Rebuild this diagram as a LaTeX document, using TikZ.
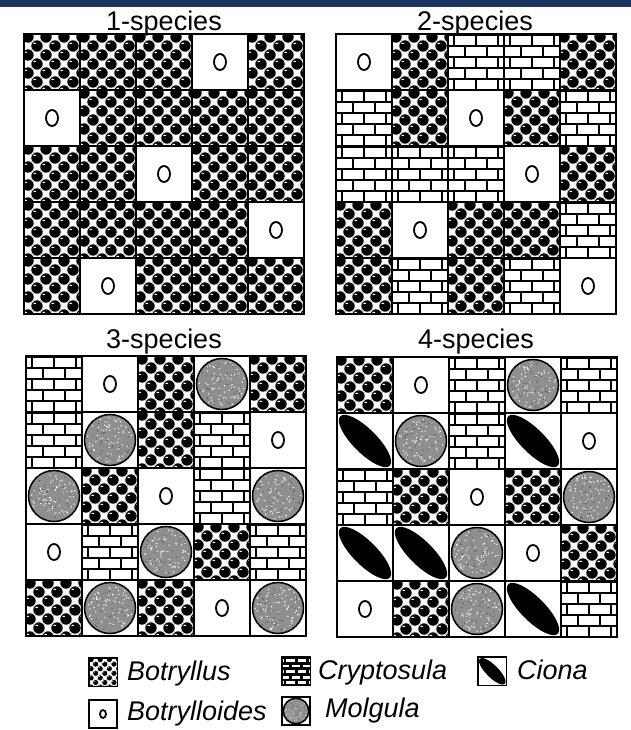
\documentclass[tikz,border=0pt]{standalone}
\usepackage{fontspec}
\setmainfont{Liberation Sans}
\definecolor{navy}{RGB}{26,54,94}
\definecolor{molg}{gray}{0.56}
\tikzset{
  cellborder/.style={draw=black, line width=1.6pt},
  gridborder/.style={draw=black, line width=2.2pt},
  brickline/.style={draw=black, line width=2.8pt},
  titletext/.style={font=\fontsize{27}{30}\selectfont, anchor=base, inner sep=0pt},
  legtext/.style={font=\itshape\fontsize{27}{30}\selectfont, anchor=base west, inner sep=0pt},
}
% Botryllus: black bubbles with white gaps
\newcommand{\cellB}[2]{%
  \begin{scope}
    \clip (#1,#2) rectangle ++(56,56);
    \fill[black] (#1,#2) rectangle ++(56,56);
    \foreach \r in {0,...,6}{
      \pgfmathsetmacro{\off}{mod(\r,2)*9}
      \foreach \i in {-1,...,3}{
        \fill[white] ({#1+4+18*\i+\off+9-3},{#2+3+9*\r-3}) rectangle ++(6,6);
      }
    }
    \foreach \r in {0,...,6}{
      \pgfmathsetmacro{\off}{mod(\r,2)*9}
      \foreach \i in {-1,...,3}{
        \filldraw[fill=black,draw=white,line width=0.8pt] ({#1+4+18*\i+\off},{#2+3+9*\r}) circle (6.2pt);
        \fill[white] ({#1+4+18*\i+\off-2.2},{#2+3+9*\r-2.6}) ellipse [x radius=1.6pt, y radius=0.8pt];
      }
    }
  \end{scope}
  \draw[cellborder] (#1,#2) rectangle ++(56,56);
}
% Botrylloides: white with small o
\newcommand{\cellO}[2]{%
  \fill[white] (#1,#2) rectangle ++(56,56);
  \draw[black, line width=1.8pt] ({#1+28},{#2+28}) ellipse [x radius=6pt, y radius=8pt];
  \draw[cellborder] (#1,#2) rectangle ++(56,56);
}
% Cryptosula: bricks
\newcommand{\cellC}[2]{%
  \begin{scope}
    \clip (#1,#2) rectangle ++(56,56);
    \fill[white] (#1,#2) rectangle ++(56,56);
    \foreach \k in {0,...,5}{
      \draw[brickline] ({#1},{#2+1+11*\k}) -- ++(56,0);
    }
    \foreach \k in {0,...,4}{
      \pgfmathsetmacro{\off}{mod(\k,2)*11}
      \foreach \i in {0,...,2}{
        \draw[brickline] ({#1+6+22*\i+\off},{#2+1+11*\k}) -- ++(0,11);
      }
    }
  \end{scope}
  \draw[cellborder] (#1,#2) rectangle ++(56,56);
}
% Molgula: stippled grey disc
\newcommand{\cellM}[2]{%
  \fill[white] (#1,#2) rectangle ++(56,56);
  \fill[molg] ({#1+28},{#2+28}) circle (25.5pt);
  \foreach \k in {1,...,70}{
    \pgfmathsetmacro{\ang}{rnd*360}
    \pgfmathsetmacro{\rad}{sqrt(rnd)*23}
    \fill[white] ({#1+28+\rad*cos(\ang)},{#2+28+\rad*sin(\ang)}) circle (0.75pt);
  }
  \foreach \k in {1,...,40}{
    \pgfmathsetmacro{\ang}{rnd*360}
    \pgfmathsetmacro{\rad}{sqrt(rnd)*23}
    \fill[black!70] ({#1+28+\rad*cos(\ang)},{#2+28+\rad*sin(\ang)}) circle (0.6pt);
  }
  \draw[black, line width=1.5pt] ({#1+28},{#2+28}) circle (25.5pt);
  \draw[cellborder] (#1,#2) rectangle ++(56,56);
}
% Ciona: black diagonal ellipse
\newcommand{\cellI}[2]{%
  \begin{scope}
    \clip (#1,#2) rectangle ++(56,56);
    \fill[white] (#1,#2) rectangle ++(56,56);
    \fill[black, rotate around={-45:({#1+28},{#2+28})}] ({#1+28},{#2+28}) ellipse [x radius=35pt, y radius=12pt];
  \end{scope}
  \draw[cellborder] (#1,#2) rectangle ++(56,56);
}
\newcommand{\drawgrid}[3]{%
  \foreach \code [count=\n from 0] in {#3}{
    \pgfmathsetmacro{\cx}{#1+56*mod(\n,5)}
    \pgfmathsetmacro{\cy}{#2+56*floor(\n/5)}
    \csname cell\code\endcsname{\cx}{\cy}
  }
  \draw[gridborder] (#1,#2) rectangle ++(280,280);
}
\begin{document}
\begin{tikzpicture}[x=1pt,y=-1pt]
\pgfmathsetseed{7}
\useasboundingbox (0,0) rectangle (631,730);
\fill[white] (0,0) rectangle (631,730);
\fill[navy] (0,0) rectangle (631,7);

\drawgrid{24}{34}{B,B,B,O,B,O,B,B,B,B,B,B,O,B,B,B,B,B,B,O,B,O,B,B,B}
\drawgrid{336}{34}{O,B,C,C,B,C,B,O,B,C,C,C,C,O,B,B,O,B,B,C,B,C,B,C,O}
\drawgrid{26}{356}{C,O,B,M,B,C,M,B,C,O,M,B,O,C,M,O,C,M,B,C,B,M,B,O,M}
\drawgrid{337}{357}{B,O,C,M,C,I,M,C,I,O,C,B,O,B,M,I,I,M,O,B,O,B,M,I,C}

\node[titletext] (t1) at (164,31) {1-species};
\node[titletext] (t2) at (475,31) {2-species};
\node[titletext] (t3) at (164,348) {3-species};
\node[titletext] (t4) at (476,348) {4-species};

% legend
\begin{scope}[shift={(89,658)},scale=0.51] \cellB{0}{0} \end{scope}
\begin{scope}[shift={(89,700)},scale=0.5] \cellO{0}{0} \end{scope}
\begin{scope}[shift={(282,657)},scale=0.51] \cellC{0}{0} \end{scope}
\begin{scope}[shift={(282,697)},scale=0.5] \cellM{0}{0} \end{scope}
\begin{scope}[shift={(478,657)},scale=0.51] \cellI{0}{0} \end{scope}

\node[legtext] (lb) at (127,680) {Botryllus};
\node[legtext] (lo) at (127,720) {Botrylloides};
\node[legtext] (lc) at (318,679) {Cryptosula};
\node[legtext] (lm) at (325,717) {Molgula};
\node[legtext] (li) at (517,679) {Ciona};
\end{tikzpicture}
\end{document}
